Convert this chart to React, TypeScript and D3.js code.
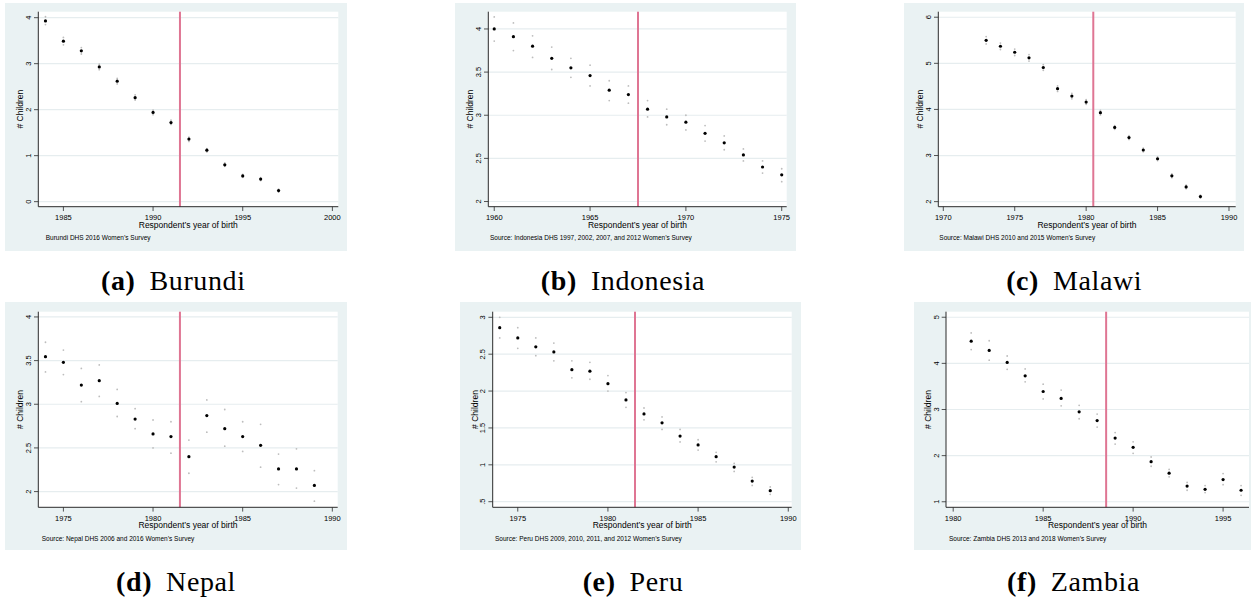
import React from 'react';
import * as d3 from 'd3';

// ---------- Data ----------
const burundiYears = [1984, 1985, 1986, 1987, 1988, 1989, 1990, 1991, 1992, 1993, 1994, 1995, 1996, 1997];
const burundiMean = [3.93, 3.49, 3.28, 2.93, 2.62, 2.26, 1.94, 1.72, 1.36, 1.12, 0.8, 0.56, 0.49, 0.24];
const burundiLo = [3.85, 3.41, 3.21, 2.87, 2.56, 2.21, 1.89, 1.68, 1.31, 1.08, 0.77, 0.53, 0.46, 0.21];
const burundiHi = [4.02, 3.57, 3.35, 2.99, 2.68, 2.32, 1.99, 1.77, 1.4, 1.15, 0.84, 0.59, 0.52, 0.27];

const indonesiaYears = [1960, 1961, 1962, 1963, 1964, 1965, 1966, 1967, 1968, 1969, 1970, 1971, 1972, 1973, 1974, 1975];
const indonesiaMean = [4.0, 3.91, 3.8, 3.66, 3.55, 3.46, 3.29, 3.24, 3.07, 2.98, 2.92, 2.79, 2.68, 2.54, 2.4, 2.31];
const indonesiaLo = [3.86, 3.75, 3.67, 3.53, 3.44, 3.34, 3.17, 3.14, 2.98, 2.89, 2.83, 2.7, 2.6, 2.47, 2.33, 2.23];
const indonesiaHi = [4.14, 4.07, 3.92, 3.79, 3.66, 3.58, 3.4, 3.34, 3.17, 3.07, 3.0, 2.88, 2.76, 2.61, 2.47, 2.38];

const malawiYears = [1973, 1974, 1975, 1976, 1977, 1978, 1979, 1980, 1981, 1982, 1983, 1984, 1985, 1986, 1987, 1988];
const malawiMean = [5.5, 5.37, 5.24, 5.12, 4.91, 4.45, 4.29, 4.16, 3.93, 3.61, 3.39, 3.12, 2.93, 2.56, 2.32, 2.11];
const malawiLo = [5.42, 5.3, 5.17, 5.05, 4.85, 4.39, 4.23, 4.11, 3.88, 3.57, 3.35, 3.08, 2.89, 2.52, 2.28, 2.08];
const malawiHi = [5.58, 5.44, 5.31, 5.19, 4.97, 4.51, 4.35, 4.21, 3.98, 3.65, 3.43, 3.16, 2.97, 2.6, 2.36, 2.14];

const nepalYears = [1974, 1975, 1976, 1977, 1978, 1979, 1980, 1981, 1982, 1983, 1984, 1985, 1986, 1987, 1988, 1989];
const nepalMean = [3.545, 3.48, 3.22, 3.27, 3.01, 2.83, 2.66, 2.63, 2.4, 2.87, 2.72, 2.63, 2.53, 2.26, 2.26, 2.07];
const nepalLo = [3.37, 3.34, 3.03, 3.09, 2.86, 2.72, 2.5, 2.44, 2.21, 2.68, 2.52, 2.46, 2.28, 2.08, 2.04, 1.89];
const nepalHi = [3.71, 3.62, 3.41, 3.45, 3.17, 2.95, 2.82, 2.8, 2.59, 3.05, 2.94, 2.8, 2.77, 2.43, 2.49, 2.24];

const peruYears = [1974, 1975, 1976, 1977, 1978, 1979, 1980, 1981, 1982, 1983, 1984, 1985, 1986, 1987, 1988, 1989];
const peruMean = [2.86, 2.72, 2.6, 2.53, 2.29, 2.27, 2.1, 1.88, 1.69, 1.57, 1.39, 1.27, 1.11, 0.97, 0.78, 0.65];
const peruLo = [2.72, 2.58, 2.48, 2.41, 2.18, 2.16, 2.0, 1.78, 1.61, 1.48, 1.31, 1.2, 1.04, 0.91, 0.72, 0.6];
const peruHi = [3.0, 2.86, 2.72, 2.65, 2.41, 2.39, 2.21, 1.98, 1.77, 1.65, 1.48, 1.34, 1.17, 1.02, 0.83, 0.7];

const zambiaYears = [1981, 1982, 1983, 1984, 1985, 1986, 1987, 1988, 1989, 1990, 1991, 1992, 1993, 1994, 1995, 1996];
const zambiaMean = [4.48, 4.28, 4.02, 3.73, 3.39, 3.24, 2.95, 2.76, 2.38, 2.18, 1.87, 1.62, 1.34, 1.27, 1.48, 1.25];
const zambiaLo = [4.3, 4.07, 3.87, 3.6, 3.23, 3.08, 2.8, 2.62, 2.25, 2.05, 1.77, 1.54, 1.25, 1.2, 1.37, 1.14];
const zambiaHi = [4.66, 4.49, 4.16, 3.88, 3.55, 3.42, 3.09, 2.9, 2.5, 2.3, 1.97, 1.7, 1.42, 1.35, 1.61, 1.35];

const burundiXTicks = [1985, 1990, 1995, 2000];
const indonesiaXTicks = [1960, 1965, 1970, 1975];
const malawiXTicks = [1970, 1975, 1980, 1985, 1990];
const nepalXTicks = [1975, 1980, 1985, 1990];
const peruXTicks = [1975, 1980, 1985, 1990];
const zambiaXTicks = [1980, 1985, 1990, 1995];

const burundiYTicks = [0, 1, 2, 3, 4];
const burundiYLabels = ['0', '1', '2', '3', '4'];
const indonesiaYTicks = [2, 2.5, 3, 3.5, 4];
const indonesiaYLabels = ['2', '2.5', '3', '3.5', '4'];
const malawiYTicks = [2, 3, 4, 5, 6];
const malawiYLabels = ['2', '3', '4', '5', '6'];
const nepalYTicks = [2, 2.5, 3, 3.5, 4];
const nepalYLabels = ['2', '2.5', '3', '3.5', '4'];
const peruYTicks = [0.5, 1, 1.5, 2, 2.5, 3];
const peruYLabels = ['.5', '1', '1.5', '2', '2.5', '3'];
const zambiaYTicks = [1, 2, 3, 4, 5];
const zambiaYLabels = ['1', '2', '3', '4', '5'];

const cutoffYears = [1991.5, 1967.5, 1980.5, 1981.5, 1981.5, 1988.5];
const captionLetters = ['(a)', '(b)', '(c)', '(d)', '(e)', '(f)'];
const captionNames = ['Burundi', 'Indonesia', 'Malawi', 'Nepal', 'Peru', 'Zambia'];
const sourceNotes = [
  'Burundi DHS 2016 Women\u2019s Survey',
  'Source: Indonesia DHS 1997, 2002, 2007, and 2012 Women\u2019s Survey',
  'Source: Malawi DHS 2010 and 2015 Women\u2019s Survey',
  'Source: Nepal DHS 2006 and 2016 Women\u2019s Survey',
  'Source: Peru DHS 2009, 2010, 2011, and 2012 Women\u2019s Survey',
  'Source: Zambia DHS 2013 and 2018 Women\u2019s Survey',
];

const X_TITLE = 'Respondent\u2019s year of birth';
const Y_TITLE = '# Children';

// ---------- Layout ----------
type Layout = {
  bg: [number, number, number, number];
  plot: [number, number, number, number];
  xDomain: [number, number];
  yDomain: [number, number];
  noteX: number;
  capX: number;
  capY: number;
};

const layouts: Layout[] = [
  { bg: [5, 3, 342, 248], plot: [38.3, 11.7, 338.3, 206.7], xDomain: [1983.6, 2000.33], yDomain: [-0.11, 4.13], noteX: 45.7, capX: 173.3, capY: 290 },
  { bg: [455, 3, 341, 248], plot: [488.3, 11.7, 786.7, 206.7], xDomain: [1959.69, 1975.26], yDomain: [1.94, 4.2], noteX: 490, capX: 623, capY: 290 },
  { bg: [904, 3, 340, 248], plot: [938.3, 11.7, 1235.7, 206.7], xDomain: [1969.65, 1990.47], yDomain: [1.89, 6.12], noteX: 939.3, capX: 1074.2, capY: 290 },
  { bg: [5, 302, 342, 248], plot: [38.3, 311.7, 337.7, 507.3], xDomain: [1973.6, 1990.3], yDomain: [1.82, 4.06], noteX: 41.7, capX: 176, capY: 591 },
  { bg: [460, 302, 341, 248], plot: [492.7, 311.7, 791.7, 507.3], xDomain: [1973.61, 1990.19], yDomain: [0.424, 3.076], noteX: 495, capX: 633, capY: 591 },
  { bg: [914, 302, 340, 248], plot: [946, 311.7, 1249, 507.3], xDomain: [1979.6, 1996.44], yDomain: [0.88, 5.12], noteX: 949, capX: 1073.5, capY: 591 },
];

type Series = {
  years: number[];
  mean: number[];
  lo: number[];
  hi: number[];
  xTicks: number[];
  yTicks: number[];
  yLabels: string[];
};

const series: Series[] = [
  { years: burundiYears, mean: burundiMean, lo: burundiLo, hi: burundiHi, xTicks: burundiXTicks, yTicks: burundiYTicks, yLabels: burundiYLabels },
  { years: indonesiaYears, mean: indonesiaMean, lo: indonesiaLo, hi: indonesiaHi, xTicks: indonesiaXTicks, yTicks: indonesiaYTicks, yLabels: indonesiaYLabels },
  { years: malawiYears, mean: malawiMean, lo: malawiLo, hi: malawiHi, xTicks: malawiXTicks, yTicks: malawiYTicks, yLabels: malawiYLabels },
  { years: nepalYears, mean: nepalMean, lo: nepalLo, hi: nepalHi, xTicks: nepalXTicks, yTicks: nepalYTicks, yLabels: nepalYLabels },
  { years: peruYears, mean: peruMean, lo: peruLo, hi: peruHi, xTicks: peruXTicks, yTicks: peruYTicks, yLabels: peruYLabels },
  { years: zambiaYears, mean: zambiaMean, lo: zambiaLo, hi: zambiaHi, xTicks: zambiaXTicks, yTicks: zambiaYTicks, yLabels: zambiaYLabels },
];

const BG = '#EAF2F3';
const GRID = '#E6EDEF';
const AXIS = '#2b2b2b';
const VLINE = '#DF7593';
const CI = '#BDBDBD';
const SANS = '"Liberation Sans", Arial, sans-serif';
const SERIF = '"Liberation Serif", "Times New Roman", serif';

function Panel({ L, S, i }: { L: Layout; S: Series; i: number }) {
  const [px0, py0, px1, py1] = L.plot;
  const x = d3.scaleLinear().domain(L.xDomain).range([px0, px1]);
  const y = d3.scaleLinear().domain(L.yDomain).range([py1, py0]);
  const cx = (px0 + px1) / 2;
  const cy = (py0 + py1) / 2;
  return (
    <g>
      <rect x={L.bg[0]} y={L.bg[1]} width={L.bg[2]} height={L.bg[3]} fill={BG} />
      <rect x={px0} y={py0} width={px1 - px0} height={py1 - py0} fill="#fff" />
      {S.yTicks.map((t) => (
        <line key={'g' + t} x1={px0} x2={px1} y1={y(t)} y2={y(t)} stroke={GRID} strokeWidth={1.2} />
      ))}
      <line x1={x(cutoffYears[i])} x2={x(cutoffYears[i])} y1={py0} y2={py1} stroke={VLINE} strokeWidth={2} />
      {S.years.map((yr, k) => (
        <g key={'p' + yr}>
          <circle cx={x(yr)} cy={y(S.lo[k])} r={0.9} fill={CI} />
          <circle cx={x(yr)} cy={y(S.hi[k])} r={0.9} fill={CI} />
          <circle cx={x(yr)} cy={y(S.mean[k])} r={1.6} fill="#000" />
        </g>
      ))}
      <line x1={px0} x2={px0} y1={py0} y2={py1} stroke={AXIS} strokeWidth={1} />
      <line x1={px0} x2={px1} y1={py1} y2={py1} stroke={AXIS} strokeWidth={1} />
      {S.yTicks.map((t, k) => (
        <g key={'yt' + t}>
          <line x1={px0 - 4.3} x2={px0} y1={y(t)} y2={y(t)} stroke={AXIS} strokeWidth={0.8} />
          <text
            transform={`translate(${px0 - 7.3},${y(t)}) rotate(-90)`}
            textAnchor="middle"
            fontFamily={SANS}
            fontSize={7.5}
            fill="#000"
          >
            {S.yLabels[k]}
          </text>
        </g>
      ))}
      {S.xTicks.map((t) => (
        <g key={'xt' + t}>
          <line x1={x(t)} x2={x(t)} y1={py1} y2={py1 + 4.3} stroke={AXIS} strokeWidth={0.8} />
          <text x={x(t)} y={py1 + 13.3} textAnchor="middle" fontFamily={SANS} fontSize={7.5} fill="#000">
            {t}
          </text>
        </g>
      ))}
      <text x={cx} y={py1 + 21} textAnchor="middle" fontFamily={SANS} fontSize={8.5} fill="#000">
        {X_TITLE}
      </text>
      <text
        transform={`translate(${px0 - 15},${cy}) rotate(-90)`}
        textAnchor="middle"
        fontFamily={SANS}
        fontSize={8.5}
        fill="#000"
      >
        {Y_TITLE}
      </text>
      <text x={L.noteX} y={py1 + 33.3} fontFamily={SANS} fontSize={6.5} fill="#000">
        {sourceNotes[i]}
      </text>
      <text x={L.capX} y={L.capY} textAnchor="middle" fontFamily={SERIF} fontSize={28} letterSpacing={0.6} fill="#000">
        <tspan fontWeight="bold">{captionLetters[i]}</tspan>
        <tspan dx={14}>{captionNames[i]}</tspan>
      </text>
    </g>
  );
}

export default function App() {
  return (
    <svg
      width={1251}
      height={606}
      viewBox="0 0 1251 606"
      style={{ position: 'absolute', left: 0, top: 0, background: '#fff', display: 'block' }}
    >
      <rect x={0} y={0} width={1251} height={606} fill="#fff" />
      {layouts.map((L, i) => (
        <Panel key={i} L={L} S={series[i]} i={i} />
      ))}
    </svg>
  );
}
